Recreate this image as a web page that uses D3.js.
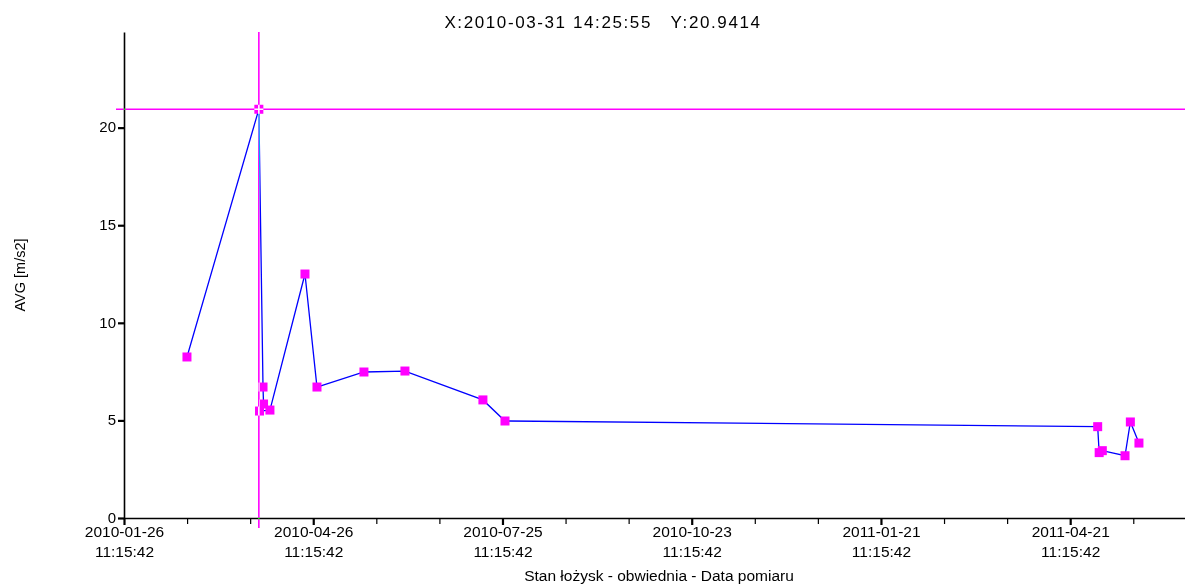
<!DOCTYPE html>
<html>
<head>
<meta charset="utf-8">
<script src="https://cdn.jsdelivr.net/npm/d3@7"></script>
<style>
  html, body { margin: 0; padding: 0; background: #fff; }
  svg { display: block; font-family: "Liberation Sans", Arial, sans-serif; }
</style>
</head>
<body>
<svg id="chart" width="1185" height="584"></svg>
<script>
// ---- data ----
const dates = [
  "2010-02-25 10:00:00",
  "2010-03-31 14:25:55",
  "2010-04-02 14:00:00",
  "2010-04-02 20:00:00",
  "2010-03-31 22:00:00",
  "2010-04-05 21:00:00",
  "2010-04-22 13:00:00",
  "2010-04-28 06:00:00",
  "2010-05-20 14:00:00",
  "2010-06-09 02:00:00",
  "2010-07-16 04:00:00",
  "2010-07-26 16:00:00",
  "2011-05-04 13:00:00",
  "2011-05-05 06:00:00",
  "2011-05-06 18:00:00",
  "2011-05-17 13:00:00",
  "2011-05-20 02:00:00",
  "2011-05-24 04:00:00"
];
const values = [
  8.25, 20.9414, 6.71, 5.84, 5.48, 5.53, 12.5, 6.71, 7.48, 7.53,
  6.05, 4.97, 4.68, 3.35, 3.45, 3.19, 4.92, 3.84
];
const xStart = "2010-01-26 11:15:42";
const xEnd = "2011-06-15 01:40:00";
const yMax = 24.9;
const yTicks = [0, 5, 10, 15, 20];
const minorStepDays = 30;
const majorEvery = 3; // every 3rd minor tick is a labelled major tick
const cursorX = "2010-03-31 14:25:55";
const cursorY = 20.9414;
const xTitle = "Stan łożysk - obwiednia - Data pomiaru";
const yTitle = "AVG [m/s2]";

// ---- setup ----
const parse = d3.utcParse("%Y-%m-%d %H:%M:%S");
const fmtDate = d3.utcFormat("%Y-%m-%d");
const fmtTime = d3.utcFormat("%H:%M:%S");
const data = dates.map((d, i) => ({ t: parse(d), v: values[i] }));

const svg = d3.select("#chart");
const W = 1185, H = 584;
const m = { left: 124, right: 0, top: 32, bottom: 66 };

svg.append("rect").attr("width", W).attr("height", H).attr("fill", "#fff");

const t0 = parse(xStart), t1 = parse(xEnd);
const x = d3.scaleUtc().domain([t0, t1]).range([m.left, W - m.right]);
const y = d3.scaleLinear().domain([0, yMax]).range([H - m.bottom, m.top]);

const dayMs = 86400000;
const tickDates = [];
for (let k = 0; t0.getTime() + k * minorStepDays * dayMs <= t1.getTime(); k++) {
  tickDates.push({ d: new Date(t0.getTime() + k * minorStepDays * dayMs), major: k % majorEvery === 0 });
}

// ---- axes ----
const y0 = H - m.bottom;
const gxMinor = svg.append("g").attr("transform", `translate(0,${y0})`)
  .call(d3.axisBottom(x).tickValues(tickDates.filter(d => !d.major).map(d => d.d)).tickSize(6).tickFormat(""));
gxMinor.select(".domain").remove();
gxMinor.selectAll("line").attr("stroke", "#000").attr("stroke-width", 1.2);

const gx = svg.append("g").attr("transform", `translate(0,${y0})`)
  .call(d3.axisBottom(x).tickValues(tickDates.filter(d => d.major).map(d => d.d)).tickSize(7).tickSizeOuter(0).tickFormat(""));
gx.select(".domain").attr("stroke", "#000").attr("stroke-width", 1.6);
gx.selectAll(".tick line").attr("stroke", "#000").attr("stroke-width", 2.2);
gx.selectAll(".tick").each(function (d) {
  const t = d3.select(this).append("text")
    .attr("fill", "#000").attr("text-anchor", "middle")
    .style("font-size", "15.5px");
  t.append("tspan").attr("x", 0).attr("y", 19).text(fmtDate(d));
  t.append("tspan").attr("x", 0).attr("y", 39).text(fmtTime(d));
});

const gy = svg.append("g").attr("transform", `translate(${m.left},0)`)
  .call(d3.axisLeft(y).tickValues(yTicks).tickSize(6).tickSizeOuter(0).tickFormat(d3.format("d")));
gy.select(".domain").attr("stroke", "#000").attr("stroke-width", 1.6);
gy.selectAll(".tick line").attr("stroke", "#000").attr("stroke-width", 2.2);
gy.selectAll(".tick text").attr("x", -8).attr("dy", "0.28em")
  .attr("fill", "#000").style("font-size", "15px");

// ---- titles ----
svg.append("text").attr("x", 659).attr("y", 581).attr("text-anchor", "middle")
  .style("font-size", "15.5px").attr("fill", "#000").text(xTitle);
svg.append("text").attr("transform", `translate(25,${(m.top + y0) / 2}) rotate(-90)`)
  .attr("text-anchor", "middle").style("font-size", "14.5px").attr("fill", "#000").text(yTitle);

svg.append("text").attr("x", 603).attr("y", 28)
  .attr("text-anchor", "middle").style("font-size", "17px").style("letter-spacing", "1.6px")
  .attr("fill", "#000").style("white-space", "pre")
  .text(`X:${cursorX}   Y:${cursorY}`);

// ---- series ----
const line = d3.line().x(d => x(d.t)).y(d => y(d.v));
svg.append("path").datum(data).attr("d", line)
  .attr("fill", "none").attr("stroke", "#0000ff").attr("stroke-width", 1.3);

const ms = 9;
svg.append("g").selectAll("rect").data(data).join("rect")
  .attr("x", d => x(d.t) - ms / 2).attr("y", d => y(d.v) - ms / 2)
  .attr("width", ms).attr("height", ms).attr("fill", "#ff00ff");

// ---- cursor (XOR-like) ----
const cx = x(parse(cursorX)), cy = y(cursorY);
const cur = svg.append("g").style("mix-blend-mode", "difference");
cur.append("line").attr("x1", m.left - 8).attr("x2", W).attr("y1", cy).attr("y2", cy)
  .attr("stroke", "#00ff00").attr("stroke-width", 1.6);
cur.append("line").attr("x1", cx).attr("x2", cx).attr("y1", m.top).attr("y2", y0 + 10)
  .attr("stroke", "#00ff00").attr("stroke-width", 1.6);
</script>
</body>
</html>
